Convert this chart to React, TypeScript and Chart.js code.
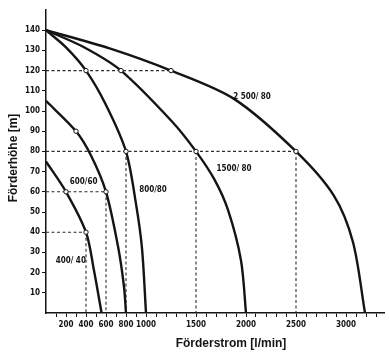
import React, { useEffect, useRef } from "react";
import { Chart, registerables } from "chart.js";

Chart.register(...registerables);

// ---- Data (Förderstrom in l/min, Förderhöhe in m) ----
const flowLabeledTicks = [200, 400, 600, 800, 1000, 1500, 2000, 2500, 3000];
const flowMinorTicks = Array.from({ length: 33 }, (_, i) => (i + 1) * 100);
const headTicks = [10, 20, 30, 40, 50, 60, 70, 80, 90, 100, 110, 120, 130, 140];

const pumpNames = ["2 500/ 80", "1500/ 80", "800/80", "600/60", "400/ 40"];

const q2500 = [0, 636, 1250, 1880, 2500, 2880, 3070, 3190];
const h2500 = [140, 131, 120, 106, 80, 58, 35, 0];

const q1500 = [0, 371, 750, 1262, 1500, 1685, 1820, 1950, 2000];
const h1500 = [140, 131.8, 120, 94.7, 80, 66, 51, 26, 0];

const q800 = [0, 200, 400, 600, 800, 900, 960, 1000];
const h800 = [140, 131.5, 120, 103, 80, 54, 32, 0];

const q600 = [0, 300, 450, 600, 720, 780, 800];
const h600 = [105, 90, 78, 60, 33, 13, 0];

const q400 = [0, 200, 400, 480, 556];
const h400 = [75, 60, 40, 21, 0];

// marked operating points (open circles)
const markedQ = [400, 750, 1250, 300, 800, 1500, 2500, 200, 600, 400];
const markedH = [120, 120, 120, 90, 80, 80, 80, 60, 60, 40];

// dashed guide lines
const hGuideLevels = [120, 80, 60, 40];
const vGuideQ = [400, 600, 800, 1500, 2500];
const vGuideH = [40, 60, 80, 80, 80];

// curve label anchors (data coordinates)
const labelQ = [2060, 1880, 1070, 376, 248];
const labelH = [107, 71.5, 61, 65, 25.6];

const INK = "#141414";
const DASH = "#2b2b38";
const SMALL_FONT = '"DejaVu Sans Condensed", "Liberation Sans Narrow", "DejaVu Sans", sans-serif';
const TITLE_FONT = '"Liberation Sans", "DejaVu Sans", sans-serif';

const zip = (qs: number[], hs: number[]) => qs.map((q, i) => ({ x: q, y: hs[i] }));

const textPlugin = {
  id: "textPlugin",
  afterDraw(chart: any) {
    const { ctx, scales } = chart;
    const xs = scales.x;
    const ys = scales.y;
    ctx.save();
    ctx.fillStyle = INK;
    ctx.textAlign = "center";
    ctx.textBaseline = "middle";
    ctx.font = `bold 8px ${SMALL_FONT}`;
    pumpNames.forEach((name, i) => {
      ctx.fillText(name, xs.getPixelForValue(labelQ[i]), ys.getPixelForValue(labelH[i]));
    });
    // axis titles
    ctx.font = `bold 12px ${TITLE_FONT}`;
    ctx.fillText("Förderstrom [l/min]", 231, 344);
    ctx.translate(14, 158);
    ctx.rotate(-Math.PI / 2);
    ctx.fillText("Förderhöhe [m]", 0, 0);
    ctx.restore();
  },
};

export default function App() {
  const ref = useRef<HTMLCanvasElement>(null);

  useEffect(() => {
    if (!ref.current) return;

    const curves = [
      [q2500, h2500],
      [q1500, h1500],
      [q800, h800],
      [q600, h600],
      [q400, h400],
    ];

    const datasets: any[] = [];

    datasets.push({
      label: "points",
      data: zip(markedQ, markedH),
      showLine: false,
      pointRadius: 2.2,
      pointBackgroundColor: "#ffffff",
      pointBorderColor: INK,
      pointBorderWidth: 1,
      order: 0,
    });

    curves.forEach(([qs, hs], i) => {
      datasets.push({
        label: pumpNames[i],
        data: zip(qs, hs),
        showLine: true,
        borderColor: INK,
        borderWidth: 2.4,
        pointRadius: 0,
        tension: 0.3,
        fill: false,
        order: 1,
      });
    });

    hGuideLevels.forEach((lvl) => {
      const maxQ = Math.max(...markedQ.filter((_, i) => markedH[i] === lvl));
      datasets.push({
        label: "h" + lvl,
        data: [
          { x: 0, y: lvl },
          { x: maxQ, y: lvl },
        ],
        showLine: true,
        borderColor: DASH,
        borderWidth: 1.1,
        borderDash: [3, 2.5],
        pointRadius: 0,
        order: 2,
      });
    });

    vGuideQ.forEach((q, i) => {
      datasets.push({
        label: "v" + q,
        data: [
          { x: q, y: vGuideH[i] },
          { x: q, y: 0 },
        ],
        showLine: true,
        borderColor: DASH,
        borderWidth: 1.1,
        borderDash: [3, 2.5],
        pointRadius: 0,
        order: 2,
      });
    });

    const tickFont = { family: SMALL_FONT, size: 8, weight: "bold" as const };

    const chart = new Chart(ref.current, {
      type: "scatter",
      data: { datasets },
      options: {
        animation: false,
        responsive: false,
        maintainAspectRatio: false,
        layout: { padding: { top: 10, right: 1, left: 0, bottom: 0 } },
        plugins: {
          legend: { display: false },
          tooltip: { enabled: false },
        },
        scales: {
          x: {
            type: "linear",
            min: 0,
            max: 3380,
            afterFit: (s: any) => {
              s.height = 40;
            },
            afterBuildTicks: (s: any) => {
              s.ticks = flowMinorTicks.map((v) => ({ value: v }));
            },
            ticks: {
              autoSkip: false,
              maxRotation: 0,
              padding: 3,
              color: INK,
              font: tickFont,
              callback: (v: any) => (flowLabeledTicks.includes(Number(v)) ? String(v) : ""),
            },
            grid: {
              drawOnChartArea: false,
              drawTicks: true,
              tickLength: 4,
              color: INK,
              lineWidth: 1,
            },
            border: { display: true, color: INK, width: 1.5 },
          },
          y: {
            type: "linear",
            min: 0,
            max: 150,
            afterFit: (s: any) => {
              s.width = 46;
            },
            afterBuildTicks: (s: any) => {
              s.ticks = headTicks.map((v) => ({ value: v }));
            },
            ticks: {
              padding: 2,
              color: INK,
              font: tickFont,
            },
            grid: {
              drawOnChartArea: false,
              drawTicks: true,
              tickLength: 4,
              color: INK,
              lineWidth: 1,
            },
            border: { display: true, color: INK, width: 1.5 },
          },
        },
      },
      plugins: [textPlugin],
    });

    return () => chart.destroy();
  }, []);

  return (
    <div style={{ position: "fixed", left: 0, top: 0, width: 389, height: 353, background: "#fff" }}>
      <canvas ref={ref} width={389} height={353} style={{ display: "block", width: 389, height: 353 }} />
    </div>
  );
}
